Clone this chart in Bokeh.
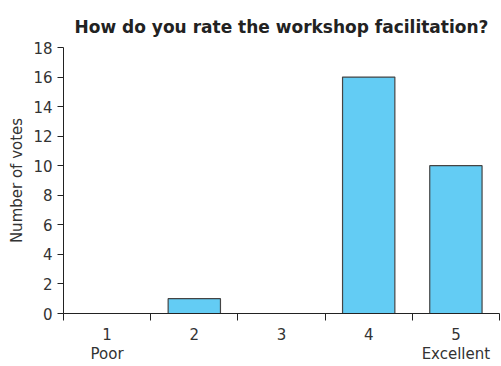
from bokeh.plotting import figure
from bokeh.models import FixedTicker, Range1d
from bokeh.embed import file_html
from bokeh.resources import INLINE

# Survey results: rating scale 1..5 and the number of votes for each
ratings = ["1", "2", "3", "4", "5"]
votes = [0, 1, 0, 16, 10]
end_labels = {"1": "Poor", "5": "Excellent"}
y_ticks = [0, 2, 4, 6, 8, 10, 12, 14, 16, 18]

FONT = "DejaVu Sans"
TEXT = "#333333"
AXIS = "#222222"

xs = [int(r) for r in ratings]

p = figure(
    width=501, height=366,
    title="How do you rate the workshop facilitation?",
    x_range=Range1d(min(xs) - 0.5, max(xs) + 0.5),
    y_range=Range1d(0, max(y_ticks)),
    output_backend="svg", toolbar_location=None,
    min_border_left=63, min_border_right=2, min_border_top=47, min_border_bottom=51,
)

p.vbar(x=xs, top=votes, width=0.6, fill_color="#63CCF4",
       line_color="#444444", line_width=1.2)

p.title.align = "center"
p.title.text_font = FONT
p.title.text_font_size = "17px"
p.title.text_font_style = "bold"
p.title.text_color = "#222222"
p.title.offset = 14
p.title.standoff = 22

# x axis: labels centred on each rating, tick marks between categories
xa = p.xaxis[0]
xa.ticker = FixedTicker(ticks=xs, minor_ticks=[x - 0.5 for x in xs] + [max(xs) + 0.5])
xa.major_tick_out = 0
xa.major_tick_in = 0
xa.minor_tick_out = 7
xa.minor_tick_in = 0
xa.minor_tick_line_color = AXIS
xa.axis_line_color = AXIS
xa.major_label_overrides = {
    int(r): (r + "\n" + end_labels[r]) if r in end_labels else r for r in ratings
}
xa.major_label_text_font = FONT
xa.major_label_text_font_size = "15px"
xa.major_label_text_color = TEXT
xa.major_label_text_line_height = 1.1
xa.major_label_standoff = 5

ya = p.yaxis[0]
ya.ticker = FixedTicker(ticks=y_ticks, minor_ticks=[])
ya.major_tick_out = 6
ya.major_tick_in = 0
ya.axis_line_color = AXIS
ya.major_tick_line_color = AXIS
ya.major_label_text_font = FONT
ya.major_label_text_font_size = "15px"
ya.major_label_text_color = TEXT
ya.axis_label = "Number of votes"
ya.axis_label_text_font = FONT
ya.axis_label_text_font_size = "15px"
ya.axis_label_text_font_style = "normal"
ya.axis_label_text_color = TEXT
ya.axis_label_standoff = 4

p.xgrid.visible = False
p.ygrid.visible = False
p.outline_line_color = None
p.background_fill_color = "white"
p.border_fill_color = "white"

open("out.html", "w").write(file_html(p, INLINE))
